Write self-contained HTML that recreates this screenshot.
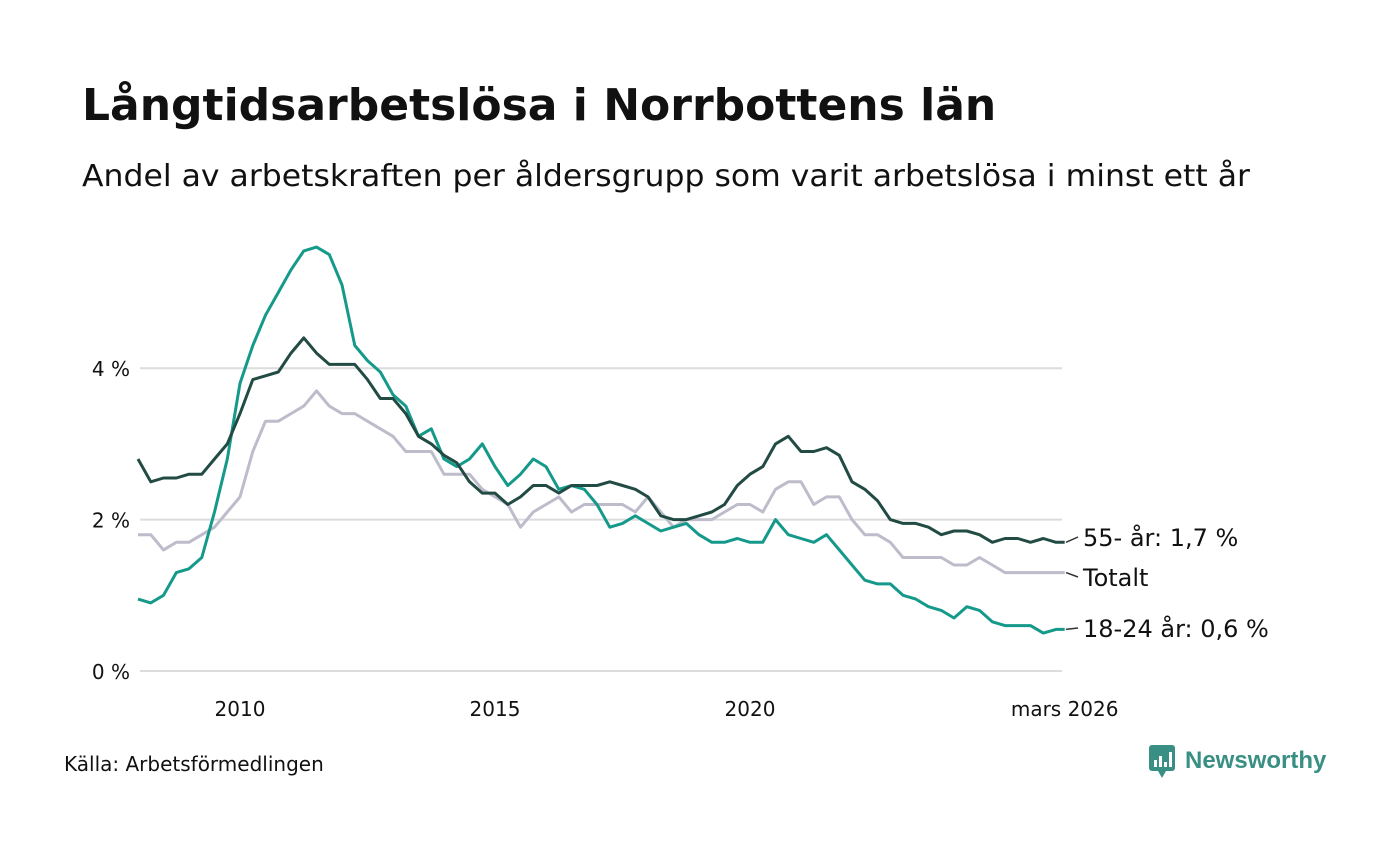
<!DOCTYPE html>
<html><head><meta charset="utf-8"><style>
body{margin:0;background:#fff;width:1400px;height:840px;overflow:hidden;font-family:"DejaVu Sans",sans-serif;}
svg text{font-family:"DejaVu Sans",sans-serif;}
</style></head><body>
<svg id="chart" width="1400" height="840">
<text x="82" y="120" font-size="44" font-weight="bold" fill="#111">Långtidsarbetslösa i Norrbottens län</text>
<text x="82" y="186" font-size="30" fill="#111" textLength="1168" lengthAdjust="spacingAndGlyphs">Andel av arbetskraften per åldersgrupp som varit arbetslösa i minst ett år</text>
<g id="grid"></g><g id="series"></g><g id="labels"></g>
<text x="64" y="771" font-size="20" fill="#111">Källa: Arbetsförmedlingen</text>
<g>
<rect x="1149" y="745" width="26" height="26" rx="3" fill="#3a8f84"/>
<polygon points="1158,771 1166,771 1162,778" fill="#3a8f84"/>
<rect x="1154" y="760" width="3" height="7" fill="#fff"/><rect x="1159" y="756" width="3" height="11" fill="#fff"/><rect x="1164" y="762" width="3" height="5" fill="#fff"/><rect x="1169" y="752" width="3" height="15" fill="#fff"/>
<text x="1185" y="768" font-size="24" font-weight="bold" fill="#3a8f84" style="font-family:'Liberation Sans',sans-serif">Newsworthy</text>
</g>
</svg>
<script>
const dates=[2008,2008.25,2008.5,2008.75,2009,2009.25,2009.5,2009.75,2010,2010.25,2010.5,2010.75,2011,2011.25,2011.5,2011.75,2012,2012.25,2012.5,2012.75,2013,2013.25,2013.5,2013.75,2014,2014.25,2014.5,2014.75,2015,2015.25,2015.5,2015.75,2016,2016.25,2016.5,2016.75,2017,2017.25,2017.5,2017.75,2018,2018.25,2018.5,2018.75,2019,2019.25,2019.5,2019.75,2020,2020.25,2020.5,2020.75,2021,2021.25,2021.5,2021.75,2022,2022.25,2022.5,2022.75,2023,2023.25,2023.5,2023.75,2024,2024.25,2024.5,2024.75,2025,2025.25,2025.5,2025.75,2026,2026.17];
const totalt=[1.8,1.8,1.6,1.7,1.7,1.8,1.9,2.1,2.3,2.9,3.3,3.3,3.4,3.5,3.7,3.5,3.4,3.4,3.3,3.2,3.1,2.9,2.9,2.9,2.6,2.6,2.6,2.4,2.3,2.2,1.9,2.1,2.2,2.3,2.1,2.2,2.2,2.2,2.2,2.1,2.3,2.1,1.9,2.0,2.0,2.0,2.1,2.2,2.2,2.1,2.4,2.5,2.5,2.2,2.3,2.3,2.0,1.8,1.8,1.7,1.5,1.5,1.5,1.5,1.4,1.4,1.5,1.4,1.3,1.3,1.3,1.3,1.3,1.3];
const age55=[2.8,2.5,2.55,2.55,2.6,2.6,2.8,3.0,3.4,3.85,3.9,3.95,4.2,4.4,4.2,4.05,4.05,4.05,3.85,3.6,3.6,3.4,3.1,3.0,2.85,2.75,2.5,2.35,2.35,2.2,2.3,2.45,2.45,2.35,2.45,2.45,2.45,2.5,2.45,2.4,2.3,2.05,2.0,2.0,2.05,2.1,2.2,2.45,2.6,2.7,3.0,3.1,2.9,2.9,2.95,2.85,2.5,2.4,2.25,2.0,1.95,1.95,1.9,1.8,1.85,1.85,1.8,1.7,1.75,1.75,1.7,1.75,1.7,1.7];
const age1824=[0.95,0.9,1.0,1.3,1.35,1.5,2.1,2.8,3.8,4.3,4.7,5.0,5.3,5.55,5.6,5.5,5.1,4.3,4.1,3.95,3.65,3.5,3.1,3.2,2.8,2.7,2.8,3.0,2.7,2.45,2.6,2.8,2.7,2.4,2.45,2.4,2.2,1.9,1.95,2.05,1.95,1.85,1.9,1.95,1.8,1.7,1.7,1.75,1.7,1.7,2.0,1.8,1.75,1.7,1.8,1.6,1.4,1.2,1.15,1.15,1.0,0.95,0.85,0.8,0.7,0.85,0.8,0.65,0.6,0.6,0.6,0.5,0.55,0.55];
const yTicks=[0,2,4];
const xTicks=[2010,2015,2020];
const NS="http://www.w3.org/2000/svg";
const x=d=>240+(d-2010)*51;
const y=v=>671-v*75.7;
function mk(tag,attrs,parent){const e=document.createElementNS(NS,tag);for(const k in attrs)e.setAttribute(k,attrs[k]);parent.appendChild(e);return e;}
const grid=document.getElementById('grid');
yTicks.forEach(t=>{
 const l=mk('line',{x1:140,x2:1062,y1:y(t),y2:y(t),stroke:'#dcdcdc','stroke-width':2},grid);
 
 
 const tx=mk('text',{x:130,y:y(t)+8,'font-size':20,'text-anchor':'end',fill:'#111'},grid);
 tx.textContent=t+' %';
 
 
});
xTicks.forEach(t=>{
 const tx=mk('text',{x:x(t),y:716,'font-size':20,'text-anchor':'middle',fill:'#111'},grid);
 tx.textContent=t;
 
 
});
const lt=mk('text',{x:x(2026.17),y:716,'font-size':20,'text-anchor':'middle',fill:'#111'},grid);
lt.textContent='mars 2026';


const ser=document.getElementById('series');
function line(vals,color,name){
 const p=mk('path',{d:vals.map((v,i)=>(i?'L':'M')+x(dates[i]).toFixed(1)+','+y(v).toFixed(1)).join(''),fill:'none',stroke:color,'stroke-width':3,'stroke-linejoin':'round'},ser);
 
 
}
line(totalt,'#bdbccb','line-totalt');
line(age1824,'#14998a','line-18-24');
line(age55,'#214b43','line-55');
const lab=document.getElementById('labels');
const labs=[['55- år: 1,7 %',age55,546],['Totalt',totalt,586],['18-24 år: 0,6 %',age1824,637]];
labs.forEach(([t,vals,ty],i)=>{
 const v=vals[vals.length-1];
 const l=mk('line',{x1:1066,y1:y(v),x2:1078,y2:ty-9,stroke:'#333','stroke-width':1.5},lab);
 
 
 const tx=mk('text',{x:1083,y:ty,'font-size':24,fill:'#111'},lab);
 tx.textContent=t;
 
 
});
</script>
</body></html>
